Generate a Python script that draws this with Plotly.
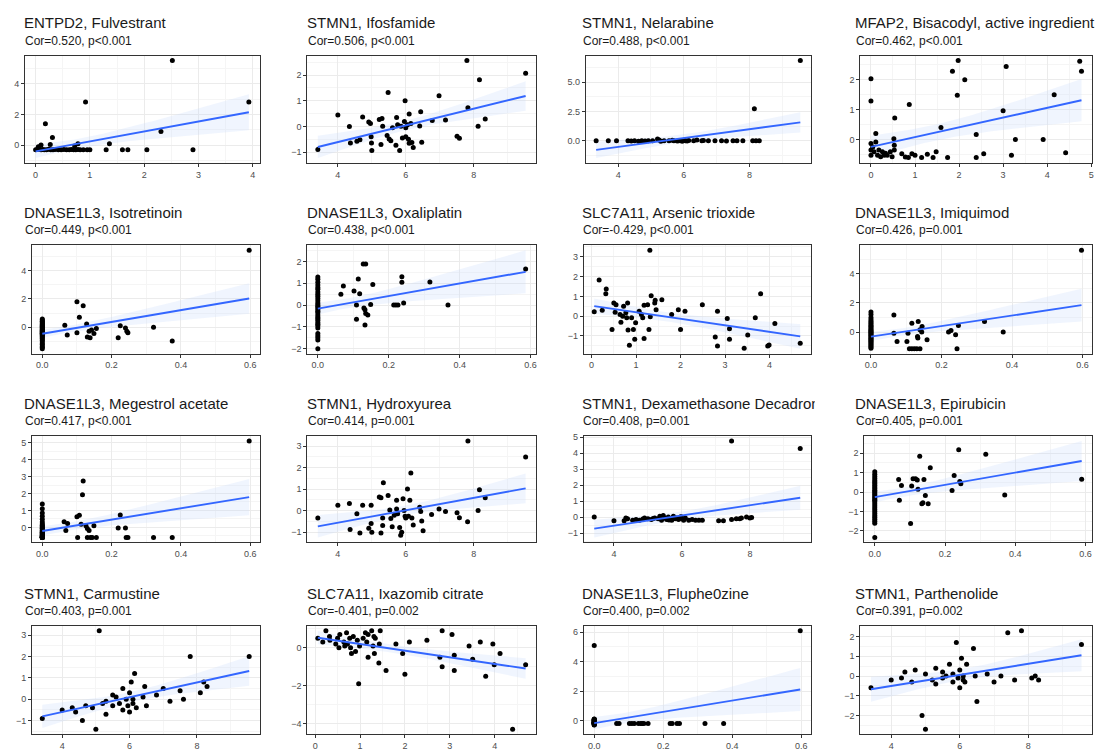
import numpy as np
import plotly.graph_objects as go

# ---------------- panel labels ----------------
titles = [
    "ENTPD2, Fulvestrant", "STMN1, Ifosfamide", "STMN1, Nelarabine",
    "MFAP2, Bisacodyl, active ingredient",
    "DNASE1L3, Isotretinoin", "DNASE1L3, Oxaliplatin", "SLC7A11, Arsenic trioxide",
    "DNASE1L3, Imiquimod",
    "DNASE1L3, Megestrol acetate", "STMN1, Hydroxyurea", "STMN1, Dexamethasone Decadron",
    "DNASE1L3, Epirubicin",
    "STMN1, Carmustine", "SLC7A11, Ixazomib citrate", "DNASE1L3, Fluphe0zine",
    "STMN1, Parthenolide",
]
subtitles = [
    "Cor=0.520, p<0.001", "Cor=0.506, p<0.001", "Cor=0.488, p<0.001", "Cor=0.462, p<0.001",
    "Cor=0.449, p<0.001", "Cor=0.438, p<0.001", "Cor=-0.429, p<0.001", "Cor=0.426, p=0.001",
    "Cor=0.417, p<0.001", "Cor=0.414, p=0.001", "Cor=0.408, p=0.001", "Cor=0.405, p=0.001",
    "Cor=0.403, p=0.001", "Cor=-0.401, p=0.002", "Cor=0.400, p=0.002", "Cor=0.391, p=0.002",
]

# ---------------- data ----------------
fulvestrant_x = [0.0, 0.03, 0.06, 0.1, 0.13, 0.16, 0.2, 0.24, 0.28, 0.32, 0.36, 0.42, 0.47, 0.52,
                 0.57, 0.62, 0.66, 0.7, 0.74, 0.78, 0.82, 0.88, 0.95, 1.0, 1.3, 1.6, 1.7, 2.05, 2.9,
                 0.05, 0.1, 0.27, 0.72, 0.78, 0.18, 0.31, 0.92, 2.52, 2.31, 3.93, 1.36]
fulvestrant_y = [-0.3, -0.28, -0.25, -0.3, -0.27, -0.3, -0.3, -0.26, -0.3, -0.3, -0.28, -0.3, -0.3, -0.27,
                 -0.3, -0.3, -0.28, -0.3, -0.3, -0.27, -0.3, -0.3, -0.3, -0.3, -0.3, -0.3, -0.3, -0.3, -0.3,
                 -0.1, 0.02, 0.05, -0.05, 0.1, 1.4, 0.5, 2.8, 5.5, 0.9, 2.8, 0.1]

ifosfamide_x = [3.41, 4.0, 4.34, 4.37, 4.56, 4.65, 4.73, 4.91, 4.96, 4.98, 4.99, 5.0, 5.22, 5.3, 5.32,
                5.27, 5.48, 5.51, 5.56, 5.61, 5.71, 5.73, 5.76, 5.82, 5.86, 5.96, 5.98, 6.0, 6.0, 6.05,
                6.08, 6.1, 6.15, 6.18, 6.22, 6.41, 6.44, 6.47, 6.78, 6.98, 7.17, 7.51, 7.58, 7.83, 7.8,
                8.13, 8.17, 8.34, 9.53, 6.1, 5.45, 5.9]
ifosfamide_y = [-0.9, 0.45, 0.0, -0.64, -0.58, -0.52, 0.37, 0.17, 0.12, -0.4, -0.64, -0.94, 0.27, 0.31, 0.01,
                -0.7, 1.32, -0.49, -0.56, -0.05, -0.73, 0.35, 0.07, -0.94, 0.01, 0.19, 1.0, -0.05, -0.4, 0.07,
                -0.5, 0.49, 0.12, -0.62, -0.82, 0.02, 0.57, -0.61, 0.23, 1.2, 0.25, -0.38, -0.46, 0.73, 2.57,
                0.01, 1.82, 0.29, 2.07, -0.65, -0.35, -0.45]

nelarabine_x = [3.33, 3.95, 4.3, 4.5, 4.62, 4.72, 4.82, 4.92, 5.2, 5.25, 5.4, 5.55, 5.7, 5.85, 5.95, 6.05,
                6.15, 6.4, 6.55, 6.75, 6.95, 7.15, 7.5, 7.62, 7.8, 8.1, 8.3, 5.3, 5.65, 5.8, 6.0, 6.1,
                6.3, 4.4, 3.7, 5.05, 7.3, 8.2, 6.6, 8.15, 9.55]
nelarabine_y = [0.0, 0.0, 0.0, -0.02, -0.05, 0.0, -0.03, 0.0, 0.15, 0.05, 0.0, -0.02, 0.0, 0.0, -0.05, 0.0,
                0.02, 0.05, 0.0, 0.0, 0.0, 0.0, 0.0, -0.02, 0.0, 0.0, 0.0, -0.05, 0.03, -0.04, 0.03, -0.03,
                0.0, -0.04, 0.0, 0.0, -0.03, -0.02, 0.02, 2.73, 6.85]

bisacodyl_x = [0.0, 0.0, 0.0, 0.0, 0.0, 0.04, 0.07, 0.11, 0.11, 0.15, 0.18, 0.22, 0.26, 0.3, 0.33, 0.37,
               0.44, 0.48, 0.52, 0.53, 0.53, 0.54, 0.87, 0.7, 0.78, 0.85, 0.93, 1.0, 1.15, 1.28, 1.41,
               1.48, 1.59, 1.74, 1.85, 1.96, 1.98, 2.13, 2.39, 2.39, 2.56, 3.0, 3.07, 3.19, 3.28, 3.91,
               4.16, 4.42, 4.74, 4.78]
bisacodyl_y = [2.03, 1.29, -0.13, -0.35, -0.52, -0.25, -0.41, -0.08, 0.2, -0.52, -0.35, -0.57, -0.41, -0.52,
               -0.46, -0.52, -0.41, -0.57, 0.03, -0.35, -0.19, 0.72, 1.17, -0.47, -0.58, -0.6, -0.47,
               -0.52, -0.6, -0.49, -0.6, -0.41, 0.4, -0.6, 2.28, 1.48, 2.64, 2.0, 0.17, -0.6, -0.47, 0.96,
               2.44, -0.52, 0.0, 0.0, 1.5, -0.44, 2.62, 2.28]

isotretinoin_x = [0.0] * 32 + [0.065, 0.072, 0.1, 0.1, 0.107, 0.118, 0.128, 0.13, 0.135, 0.138, 0.142,
                               0.149, 0.156, 0.225, 0.219, 0.24, 0.244, 0.247, 0.321, 0.375, 0.597]
isotretinoin_y = [-1.52, -1.41, -1.33, -1.2, -1.12, -0.98, -0.91, -0.8, -0.72, -0.63, -0.57, -0.49, -0.44,
                  -0.38, -0.33, -0.27, -0.22, -0.16, -0.11, -0.05, 0.0, 0.06, 0.1, 0.17, 0.22, 0.29, 0.36,
                  0.42, 0.5, 0.58, -0.3, -0.45,
                  0.14, -0.55, 1.79, -0.39, 0.71, 1.52, 0.23, -0.69, -0.28, -0.74, -0.2, -0.44, -0.09,
                  0.11, -0.74, -0.05, -0.28, -0.39, 0.0, -0.97, 5.43]

oxaliplatin_x = [0.0] * 31 + [0.065, 0.072, 0.102, 0.109, 0.109, 0.114, 0.118, 0.128, 0.135, 0.13, 0.133,
                              0.135, 0.133, 0.141, 0.149, 0.155, 0.214, 0.22, 0.226, 0.237, 0.237, 0.242,
                              0.316, 0.367, 0.586]
oxaliplatin_y = [1.28, 1.18, 1.05, 0.92, 0.8, 0.72, 0.6, 0.5, 0.4, 0.3, 0.2, 0.1, 0.02, -0.05, -0.12, -0.2,
                 -0.28, -0.35, -0.45, -0.55, -0.62, -0.7, -0.8, -0.88, -0.95, -1.05, -1.3, -1.4, -1.5,
                 -1.6, -2.0,
                 0.49, 0.87, 0.65, 0.0, -0.65, 1.19, 0.52, 1.88, 1.88, -0.13, -0.22, -0.39, -0.91, -0.45,
                 0.03, 0.94, 0.0, 0.0, 0.0, 1.3, 1.04, 0.09, 1.06, 0.0, 1.65]

arsenic_x = [0.06, 0.17, 0.24, 0.33, 0.32, 0.46, 0.5, 0.53, 0.55, 0.64, 0.66, 0.7, 0.72, 0.77, 0.79, 0.81,
             0.82, 0.85, 0.9, 0.94, 0.97, 0.99, 1.07, 1.12, 1.15, 1.18, 1.18, 1.26, 1.29, 1.31, 1.32, 1.34,
             1.42, 1.43, 1.45, 1.58, 1.8, 1.95, 2.0, 2.1, 2.49, 2.78, 2.83, 2.83, 3.05, 3.1, 3.1, 3.43,
             3.51, 3.68, 3.8, 3.96, 3.99, 4.12, 4.69]
arsenic_y = [0.23, 1.83, 0.3, 1.38, 1.13, -0.67, 0.67, 0.2, 0.58, 0.08, -0.3, 0.0, 0.5, 0.17, -0.08, 0.67,
             -0.7, -1.47, -0.08, -0.67, -1.17, -0.33, 0.25, 0.08, -0.08, -1.13, 0.55, 0.58, -0.67, 3.33,
             -0.03, 1.03, 0.67, 0.8, 0.33, 0.83, 0.08, 0.33, -0.67, 0.25, 0.58, -1.05, 0.25, -1.5, -0.12,
             -0.63, -1.17, -1.62, -0.95, -0.08, 1.13, -1.5, -1.45, -0.37, -1.37]

imiquimod_x = [0.0] * 30 + [0.065, 0.065, 0.074, 0.102, 0.105, 0.116, 0.109, 0.116, 0.123, 0.13, 0.139,
                            0.134, 0.132, 0.133, 0.139, 0.145, 0.144, 0.159, 0.22, 0.227, 0.24, 0.244,
                            0.248, 0.322, 0.375, 0.597]
imiquimod_y = [-1.1, -1.02, -0.95, -0.86, -0.8, -0.72, -0.65, -0.58, -0.5, -0.43, -0.38, -0.3, -0.24,
               -0.18, -0.1, -0.05, 0.02, 0.08, 0.15, 0.22, 0.3, 0.38, 0.46, 0.55, 0.64, 0.75, 0.86, 1.0,
               1.2, 1.38,
               1.18, -0.07, -0.64, -0.64, -0.07, 0.61, -1.14, -1.14, -1.14, -1.14, -1.14, 0.73, -0.3,
               -0.4, 0.16, 0.39, 0.0, -0.52, 0.0, 0.11, -0.18, -1.14, 0.45, 0.73, 0.0, 5.61]

megestrol_x = [0.0] * 32 + [0.063, 0.068, 0.073, 0.1, 0.102, 0.107, 0.112, 0.118, 0.116, 0.126, 0.13,
                            0.13, 0.135, 0.139, 0.144, 0.149, 0.156, 0.219, 0.225, 0.24, 0.242, 0.247,
                            0.321, 0.375, 0.597]
megestrol_y = [-0.6, -0.6, -0.6, -0.6, -0.59, -0.58, -0.57, -0.55, -0.53, -0.5, -0.48, -0.45, -0.42,
               -0.39, -0.35, -0.32, -0.28, -0.25, -0.2, -0.15, -0.1, -0.05, 0.0, 0.06, 0.12, 0.2, 0.32,
               0.48, 0.65, 0.85, 1.1, 1.38,
               0.33, -0.19, 0.23, 0.63, -0.6, 0.71, 0.19, 2.73, 1.92, 0.1, -0.06, -0.6, -0.19, -0.6,
               -0.6, 0.1, -0.6, -0.04, 0.73, -0.04, -0.6, -0.6, -0.6, -0.6, 5.1]

hydroxyurea_x = [3.41, 4.0, 4.34, 4.36, 4.56, 4.65, 4.73, 4.91, 4.98, 4.98, 5.0, 5.22, 5.27, 5.34, 5.32,
                 5.27, 5.32, 5.48, 5.53, 5.56, 5.6, 5.66, 5.73, 5.73, 5.76, 5.82, 5.85, 5.88, 5.92, 5.95,
                 5.98, 6.0, 6.05, 6.08, 6.12, 6.15, 6.18, 6.22, 6.41, 6.44, 6.47, 6.51, 6.76, 6.98, 7.17,
                 7.51, 7.58, 7.82, 7.83, 8.13, 8.17, 8.34, 9.53]
hydroxyurea_y = [-0.34, 0.25, 0.33, -0.88, -0.15, -1.04, 0.25, -0.82, 0.25, -0.6, -1.01, 0.63, 0.6, 1.3,
                 -0.7, -1.04, -0.34, 0.7, 0.03, -0.37, -0.75, -0.22, 0.48, 0.07, -0.15, -0.79, -1.15,
                 -1.01, 0.55, 0.0, -0.27, -0.34, 1.0, -0.27, 0.48, 1.75, -0.34, -0.67, 0.15, -0.04,
                 -0.48, -0.94, -0.18, 0.07, -0.04, -0.1, -0.33, -0.52, 3.24, 0.0, 0.97, 0.6, 2.49]

dexamethasone_x = [3.42, 4.0, 4.3, 4.4, 4.55, 4.65, 4.75, 4.9, 5.0, 5.1, 5.2, 5.3, 5.35, 5.4, 5.45, 5.5,
                   5.55, 5.6, 5.65, 5.7, 5.75, 5.8, 5.85, 5.9, 5.95, 6.0, 6.05, 6.1, 6.2, 6.4, 6.6,
                   7.08, 7.22, 7.46, 7.6, 7.75, 7.9, 8.0, 4.35, 4.85, 5.15, 5.62, 5.98, 6.3,
                   6.5, 7.7, 8.05, 7.46, 9.48]
dexamethasone_y = [0.0, -0.23, -0.23, -0.1, -0.2, -0.15, -0.2, -0.05, -0.1, -0.15, -0.05, -0.1, 0.05, -0.2,
                   0.1, -0.05, -0.15, 0.0, -0.1, -0.2, 0.05, -0.1, -0.05, -0.15, 0.0, -0.1, -0.2, -0.05,
                   -0.2, -0.2, -0.2, -0.23, -0.23, -0.15, -0.1, -0.05, 0.0, -0.05, -0.05,
                   -0.12, -0.08, -0.18, 0.02, -0.15, -0.2, -0.1, -0.02, 4.77, 4.3]

epirubicin_x = [0.0] * 31 + [0.068, 0.076, 0.07, 0.102, 0.105, 0.109, 0.116, 0.121, 0.123, 0.128, 0.134,
                             0.137, 0.14, 0.144, 0.152, 0.158, 0.22, 0.226, 0.239, 0.242, 0.245, 0.316,
                             0.37, 0.589]
epirubicin_y = [-2.34, -1.6, -1.5, -1.4, -1.3, -1.2, -1.1, -1.0, -0.9, -0.8, -0.7, -0.6, -0.5, -0.42, -0.35,
                -0.28, -0.2, -0.12, -0.05, 0.03, 0.1, 0.18, 0.26, 0.35, 0.44, 0.52, 0.6, 0.7, 0.8, 0.92,
                1.05,
                0.65, 0.34, -0.42, -1.62, 0.31, 0.69, 0.69, 0.62, 0.15, 1.85, -0.6, -0.55, 0.65, -0.18,
                -0.6, 1.26, 0.08, 0.85, 2.18, 0.54, 0.43, 1.95, -0.15, 0.66]

carmustine_x = [3.41, 4.0, 4.3, 4.4, 4.6, 4.7, 4.9, 5.0, 5.1, 5.2, 5.3, 5.3, 5.5, 5.5, 5.6, 5.7, 5.8, 5.8,
                5.9, 5.95, 6.0, 6.0, 6.05, 6.1, 6.1, 6.15, 6.2, 6.4, 6.45, 6.5, 6.8, 7.0, 7.2, 7.5, 7.6,
                7.8, 8.1, 8.2, 8.3, 9.55]
carmustine_y = [-0.9, -0.5, -0.4, -0.6, -1.0, -0.3, -0.4, -1.4, 3.2, -0.2, -0.1, -0.7, -0.3, 0.2, 0.1, -0.2,
                0.5, -0.5, 0.0, -0.3, 0.3, -0.6, 0.8, 0.0, -0.2, 1.2, -0.4, 0.1, 0.6, -0.3, 0.2, 0.5,
                -0.1, 0.4, 0.0, 2.0, 0.3, 0.8, 0.6, 2.0]

ixazomib_x = [0.06, 0.17, 0.24, 0.33, 0.32, 0.46, 0.5, 0.53, 0.55, 0.64, 0.66, 0.7, 0.72, 0.77, 0.79,
              0.81, 0.85, 0.9, 0.94, 0.97, 0.99, 1.07, 1.12, 1.15, 1.18, 1.18, 1.26, 1.29, 1.31, 1.32,
              1.34, 1.42, 1.43, 1.45, 1.58, 1.8, 1.95, 2.0, 2.1, 2.49, 2.78, 2.83, 2.83, 3.05, 3.1, 3.1,
              3.43, 3.51, 3.68, 3.8, 3.96, 3.99, 4.12, 4.4, 4.69]
ixazomib_y = [0.5, 0.3, 0.9, 0.4, 0.6, 0.2, 0.5, 0.0, 0.7, 0.3, 0.1, 0.8, 0.2, 0.5, 0.0, -0.3, 0.6, -0.2,
              0.4, -1.9, 0.1, 0.5, 0.8, 0.3, -0.5, 0.7, 0.9, 0.1, 0.6, -0.3, 0.5, -0.8, 0.2, 0.9, -1.2,
              0.2, -0.3, -1.4, 0.3, 0.4, -0.5, 0.9, -1.0, 0.7, -0.4, -1.2, 0.1, -0.6, 0.3, -1.5, 0.2,
              -0.9, -0.3, -4.3, -0.9]

fluphenazine_x = [0.0] * 26 + [0.065, 0.072, 0.102, 0.109, 0.116, 0.128, 0.135, 0.144, 0.156, 0.22, 0.24,
                               0.247, 0.321, 0.375, 0.226, 0.139, 0.597]
fluphenazine_y = [5.1, -0.3, -0.28, -0.25, -0.22, -0.2, -0.18, -0.16, -0.14, -0.12, -0.1, -0.08, -0.06,
                  -0.04, -0.02, 0.0, 0.02, 0.04, 0.06, 0.08, 0.1, -0.21, -0.19, -0.17, -0.15, -0.13,
                  -0.2, -0.2, -0.2, -0.2, -0.2, -0.2, -0.2, -0.2, -0.2, -0.2, -0.2, -0.2, -0.2, -0.2,
                  -0.2, -0.2, 6.1]

parthenolide_x = [3.41, 4.0, 4.3, 4.4, 4.6, 4.7, 4.9, 5.0, 5.0, 5.2, 5.3, 5.3, 5.5, 5.5, 5.6, 5.7, 5.8,
                  5.8, 5.9, 5.95, 6.0, 6.0, 6.05, 6.1, 6.1, 6.15, 6.2, 6.4, 6.45, 6.5, 6.8, 7.0, 7.2, 7.4,
                  7.6, 7.8, 8.1, 8.2, 8.3, 9.55]
parthenolide_y = [-0.6, -0.2, -0.1, 0.2, -0.3, 0.3, -2.0, -2.7, 0.1, -0.2, 0.4, -0.4, 0.2, -0.1, 0.0, 0.6,
                  -0.3, 0.1, 1.7, -0.1, 0.3, -0.6, 0.9, 0.0, -0.2, -0.3, 0.6, 1.4, 0.0, -1.3, 0.1, -0.3,
                  0.0, 2.2, -0.2, 2.3, -0.1, 0.0, -0.2, 1.6]

# (x, y, x tick step, y tick step, x tick format, y tick format)
panels = [
    (fulvestrant_x, fulvestrant_y, 1, 2, "d", "d"),
    (ifosfamide_x, ifosfamide_y, 2, 1, "d", "d"),
    (nelarabine_x, nelarabine_y, 2, 2.5, "d", ".1f"),
    (bisacodyl_x, bisacodyl_y, 1, 1, "d", "d"),
    (isotretinoin_x, isotretinoin_y, 0.2, 2, ".1f", "d"),
    (oxaliplatin_x, oxaliplatin_y, 0.2, 1, ".1f", "d"),
    (arsenic_x, arsenic_y, 1, 1, "d", "d"),
    (imiquimod_x, imiquimod_y, 0.2, 2, ".1f", "d"),
    (megestrol_x, megestrol_y, 0.2, 1, ".1f", "d"),
    (hydroxyurea_x, hydroxyurea_y, 2, 1, "d", "d"),
    (dexamethasone_x, dexamethasone_y, 2, 1, "d", "d"),
    (epirubicin_x, epirubicin_y, 0.2, 1, ".1f", "d"),
    (carmustine_x, carmustine_y, 2, 1, "d", "d"),
    (ixazomib_x, ixazomib_y, 1, 2, "d", "d"),
    (fluphenazine_x, fluphenazine_y, 0.2, 2, ".1f", "d"),
    (parthenolide_x, parthenolide_y, 2, 1, "d", "d"),
]

# ---------------- page geometry (pixels) ----------------
W, H = 1101, 751
panel_left = [25, 308, 587, 862,
              32, 308, 585, 862,
              32, 308, 585, 866,
              32, 308, 585, 862]
col_right = [260, 537, 812, 1094]
row_top = [52, 243, 435, 626]
row_bottom = [160, 352, 542, 735]
title_left = [23, 307, 582, 856]
title_width = [270, 265, 233, 245]
FONT = "Liberation Sans, Arial, sans-serif"

fig = go.Figure()
annotations = []
layout_axes = {}

for i, (xs, ys, dx, dy, fx, fy) in enumerate(panels):
    r, c = divmod(i, 4)
    n = i + 1
    xa = "x" if n == 1 else f"x{n}"
    ya = "y" if n == 1 else f"y{n}"
    x = np.asarray(xs, dtype=float)
    y = np.asarray(ys, dtype=float)

    # least-squares fit with a 95% confidence band
    slope, intercept = np.polyfit(x, y, 1)
    xg = np.linspace(x.min(), x.max(), 80)
    yg = intercept + slope * xg
    resid = y - (intercept + slope * x)
    s = np.sqrt(np.sum(resid ** 2) / (len(x) - 2))
    sxx = np.sum((x - x.mean()) ** 2)
    se = s * np.sqrt(1.0 / len(x) + (xg - x.mean()) ** 2 / sxx)
    lo, hi = yg - 2.0 * se, yg + 2.0 * se

    fig.add_trace(go.Scatter(
        x=np.concatenate([xg, xg[::-1]]), y=np.concatenate([hi, lo[::-1]]),
        fill="toself", fillcolor="rgba(200,218,252,0.28)", line=dict(width=0),
        mode="lines", hoverinfo="skip", showlegend=False, xaxis=xa, yaxis=ya))
    fig.add_trace(go.Scatter(
        x=x, y=y, mode="markers",
        marker=dict(size=5, color="black"),
        showlegend=False, xaxis=xa, yaxis=ya))
    fig.add_trace(go.Scatter(
        x=xg, y=yg, mode="lines", line=dict(color="#3366FF", width=1.9),
        showlegend=False, xaxis=xa, yaxis=ya))

    # scale limits cover the points and the ribbon, padded by 5%
    xmin, xmax = x.min(), x.max()
    ymin, ymax = min(y.min(), lo.min()), max(y.max(), hi.max())
    xspan, yspan = xmax - xmin, ymax - ymin
    common = dict(
        showline=True, mirror=True, linecolor="#333333", linewidth=1,
        ticks="outside", ticklen=3, tickcolor="#333333", tickwidth=1,
        showgrid=True, gridcolor="#EBEBEB", gridwidth=1, zeroline=False,
        tickfont=dict(size=9, color="#4D4D4D", family=FONT),
        fixedrange=True,
    )
    left = panel_left[i]
    right = col_right[c]
    layout_axes["xaxis" if n == 1 else f"xaxis{n}"] = dict(
        common, domain=[left / W, right / W], anchor=ya,
        range=[xmin - 0.05 * xspan, xmax + 0.05 * xspan],
        tick0=0, dtick=dx, tickformat=fx,
        minor=dict(showgrid=True, gridcolor="#F5F5F5", gridwidth=0.6, tick0=0, dtick=dx / 2, ticks=""),
    )
    layout_axes["yaxis" if n == 1 else f"yaxis{n}"] = dict(
        common, domain=[(H - row_bottom[r]) / H, (H - row_top[r]) / H], anchor=xa,
        range=[ymin - 0.05 * yspan, ymax + 0.05 * yspan],
        tick0=0, dtick=dy, tickformat=fy,
        minor=dict(showgrid=True, gridcolor="#F5F5F5", gridwidth=0.6, tick0=0, dtick=dy / 2, ticks=""),
    )

    annotations.append(dict(
        text=titles[i], xref="paper", yref="paper",
        x=title_left[c] / W, y=(H - (row_top[r] - 33)) / H,
        xanchor="left", yanchor="middle", align="left", showarrow=False,
        width=title_width[c], borderpad=0,
        font=dict(size=15, color="#1A1A1A", family=FONT)))
    annotations.append(dict(
        text=subtitles[i], xref="paper", yref="paper",
        x=title_left[c] / W, y=(H - (row_top[r] - 15)) / H,
        xanchor="left", yanchor="middle", align="left", showarrow=False,
        font=dict(size=12, color="#1A1A1A", family=FONT)))

fig.update_layout(
    width=W, height=H,
    margin=dict(l=0, r=0, t=0, b=0),
    paper_bgcolor="white", plot_bgcolor="white",
    showlegend=False,
    annotations=annotations,
    **layout_axes,
)

fig.write_html("out.html", config=dict(displayModeBar=False))
